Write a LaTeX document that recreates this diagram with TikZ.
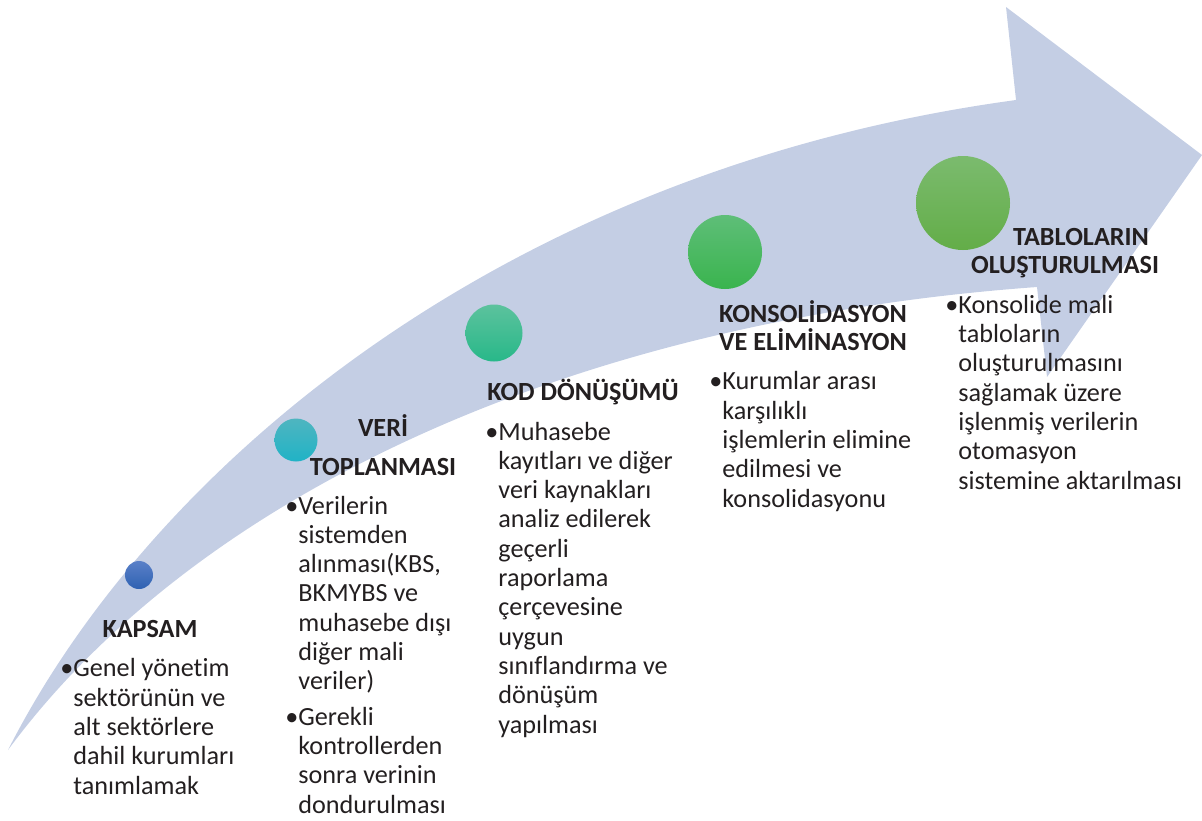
\documentclass[tikz,border=0pt]{standalone}
\usepackage{fontspec}
\setmainfont{Carlito}[Ligatures=NoCommon]
\definecolor{pfeilblau}{HTML}{C4CEE4}
\definecolor{textgrau}{HTML}{231F20}
\definecolor{blauoben}{HTML}{5A80C8}
\definecolor{blauunten}{HTML}{2F62B2}
\definecolor{tuerkisoben}{HTML}{4FB5C0}
\definecolor{tuerkisunten}{HTML}{20B3C6}
\definecolor{mintoben}{HTML}{5CC29D}
\definecolor{mintunten}{HTML}{28B889}
\definecolor{gruenoben}{HTML}{5EBE78}
\definecolor{gruenunten}{HTML}{3AB44E}
\definecolor{hellgruenoben}{HTML}{7BBB6E}
\definecolor{hellgruenunten}{HTML}{63AD48}
\tikzset{
	baslik/.style={font=\fontsize{13.1}{14}\selectfont\bfseries, text=textgrau, align=center, anchor=base, inner sep=0pt},
	madde/.style={font=\fontsize{13.1}{14.65}\selectfont, text=textgrau, align=left, anchor=base west, inner sep=0pt},
	punkt/.style n args={3}{circle, inner sep=0pt, minimum size=#1, top color=#2, bottom color=#3}
}
\begin{document}
\begin{tikzpicture}[x=0.5pt,y=-0.5pt]
		\useasboundingbox (0,0) rectangle (1202,820);
		% Pfeil
		\fill[pfeilblau] (8,750) .. controls (150,470) and (500,170) .. (1016,100) -- (1006,7) -- 
			(1202,155) -- (1047,377) -- (1037,287) .. controls (580,320) and (200,490) .. (8,750) -- cycle;
		% Punkte
		\node[punkt={14pt}{blauoben}{blauunten}] (p1) at (139,575) {};
		\node[punkt={21.5pt}{tuerkisoben}{tuerkisunten}] (p2) at (296,440) {};
		\node[punkt={28.5pt}{mintoben}{mintunten}] (p3) at (494,333) {};
		\node[punkt={37pt}{gruenoben}{gruenunten}] (p4) at (725,252) {};
		\node[punkt={47pt}{hellgruenoben}{hellgruenunten}] (p5) at (963,203) {};
		% Schritte (y = Grundlinie der letzten Zeile)
		\node[baslik] (kapsam) at (150,637) {KAPSAM};
		\node[madde] (kapsamtxt) at (73,794) {\llap{•}Genel yönetim\\sektörünün ve\\alt sektörlere\\dahil kurumları\\tanımlamak};
		\node[baslik] (veri) at (383,475) {VERİ\\[5.4pt]TOPLANMASI};
		\node[madde] (veritxt) at (298,813) {\llap{•}Verilerin\\sistemden\\alınması(KBS,\\BKMYBS ve\\muhasebe dışı\\diğer mali\\veriler)\\[3pt]
			\llap{•}Gerekli\\kontrollerden\\sonra verinin\\dondurulması};
		\node[baslik] (kod) at (583,400) {KOD DÖNÜŞÜMÜ};
		\node[madde] (kodtxt) at (498,733) {\llap{•}Muhasebe\\kayıtları ve diğer\\veri kaynakları\\analiz edilerek\\geçerli\\raporlama\\çerçevesine\\uygun\\sınıflandırma ve\\dönüşüm\\yapılması};
		\node[baslik] (kons) at (813,350) {KONSOLİDASYON\\VE ELİMİNASYON};
		\node[madde] (konstxt) at (722,507) {\llap{•}Kurumlar arası\\karşılıklı\\işlemlerin elimine\\edilmesi ve\\konsolidasyonu};
		\node[baslik] (tablo) at (1065,273) {\hspace*{16pt}TABLOLARIN\\OLUŞTURULMASI};
		\node[madde] (tablotxt) at (958,489) {\llap{•}Konsolide mali\\tabloların\\oluşturulmasını\\sağlamak üzere\\işlenmiş verilerin\\otomasyon\\sistemine aktarılması};
	\end{tikzpicture}
\end{document}
